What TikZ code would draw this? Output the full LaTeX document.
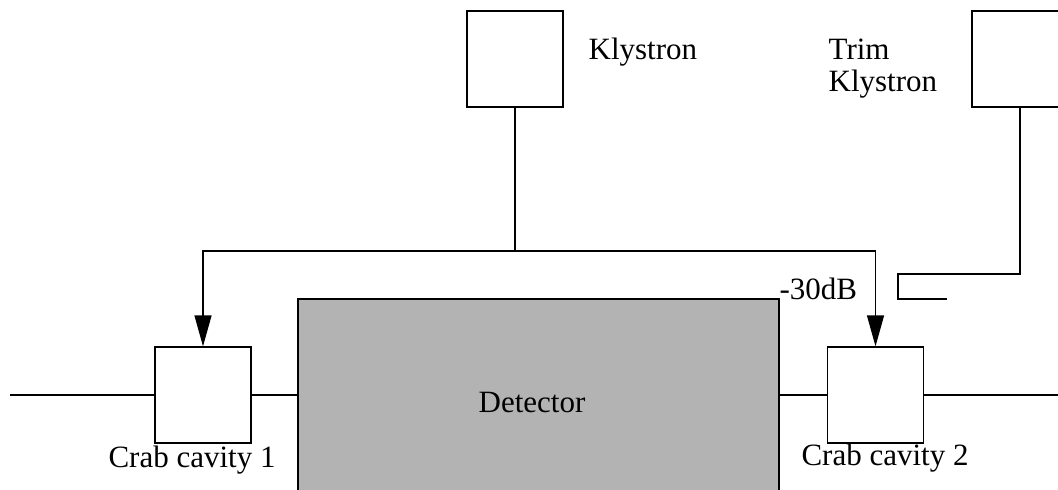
\documentclass[tikz,border=0pt]{standalone}
\usepackage{fontspec}
\setmainfont{Liberation Serif}
\usetikzlibrary{arrows.meta}

\begin{document}
\begin{tikzpicture}[x=0.5pt, y=-0.5pt, line width=0.65pt,
  cavbox/.style={draw, fill=white, minimum size=48pt, inner sep=0pt},
  lbl/.style={font=\fontsize{15.5}{16}\selectfont, inner sep=0pt},
  feed/.style={-{Triangle[length=15.5pt, width=8.5pt]}}]
  \useasboundingbox (0,0) rectangle (1058,489);
  % detector
  \node[draw, fill={rgb,255:red,179;green,179;blue,179}, minimum width=240.5pt, minimum height=110pt, inner sep=0pt] (det) at (538.5,409) {};
  \node[lbl, anchor=base] (detlbl) at (532,412) {Detector};
  % cavities and klystrons
  \node[cavbox] (cc1) at (203,395) {};
  \node[cavbox] (cc2) at (875.5,395) {};
  \node[cavbox] (kly) at (515,59) {};
  \node[cavbox] (trim) at (1020,59) {};
  \node[lbl, anchor=base] (cc1lbl) at (192,467) {Crab cavity 1};
  \node[lbl, anchor=base] (cc2lbl) at (885,465) {Crab cavity 2};
  \node[lbl, anchor=base west] (klylbl) at (588,59) {Klystron};
  \node[lbl, anchor=base west, align=left] (trimlbl) at (828,91) {Trim\\Klystron};
  \node[lbl, anchor=base west] (dblbl) at (779,299) {-30dB};
  % beam line
  \coordinate (beamL) at (10,395);
  \coordinate (beamR) at (1058,395);
  \draw (beamL) -- (cc1.west);
  \draw (cc1.east) -- (cc1.east -| det.west);
  \draw (cc2.west -| det.east) -- (cc2.west);
  \draw (cc2.east) -- (beamR);
  % rf feed
  \coordinate (split) at (515,251);
  \draw (kly.south) -- (split);
  \draw[feed] (split) -| (cc1.north);
  \draw[feed] (split) -| (cc2.north);
  % trim klystron coupler
  \coordinate (cplA) at (898,274);
  \coordinate (cplB) at (947,299);
  \draw (trim.south) |- (cplA) |- (cplB);
\end{tikzpicture}
\end{document}
